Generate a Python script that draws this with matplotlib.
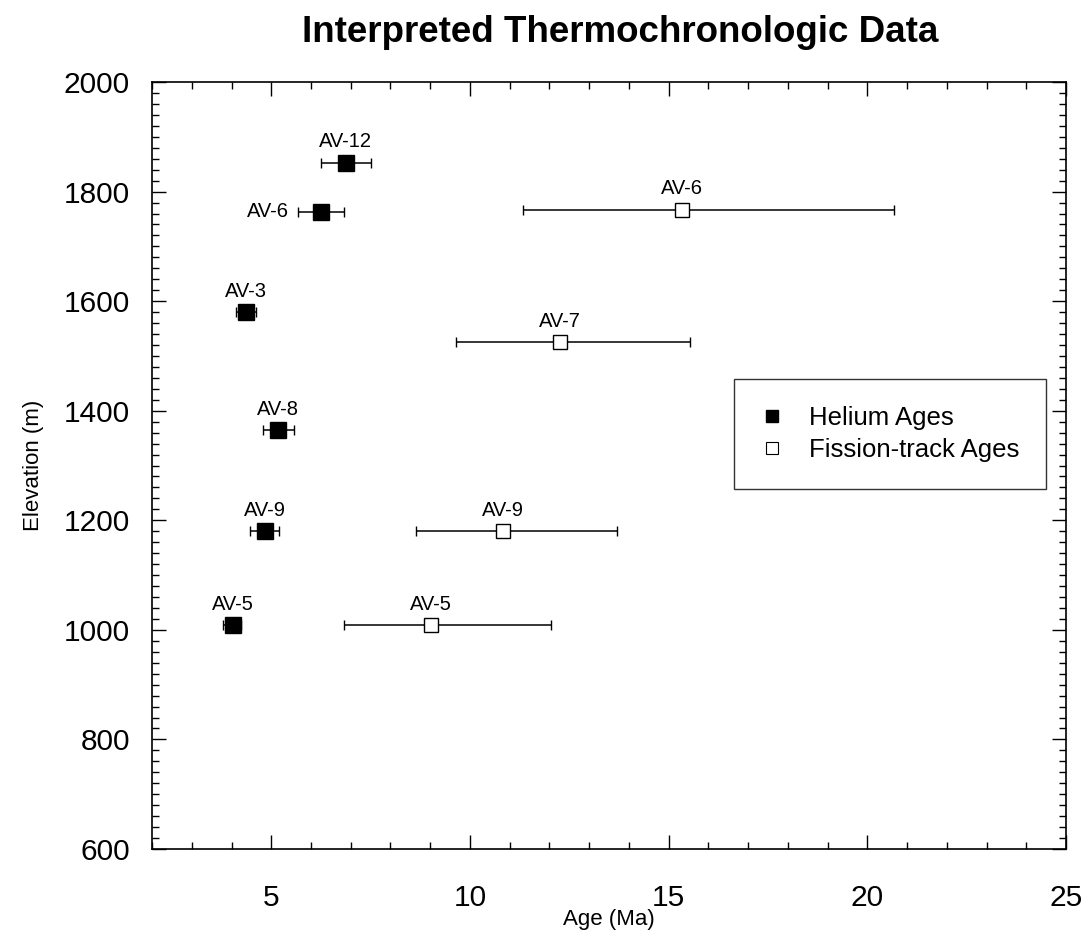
import matplotlib
matplotlib.use('Agg')
import matplotlib.pyplot as plt
from matplotlib.lines import Line2D
from matplotlib.ticker import MultipleLocator

plt.rcParams['font.family'] = ['Liberation Sans', 'DejaVu Sans']

# Helium ages (filled squares)
heNames = ['AV-5', 'AV-9', 'AV-8', 'AV-3', 'AV-6', 'AV-12']
heAge = [4.04, 4.85, 5.18, 4.37, 6.24, 6.87]
heLow = [3.79, 4.47, 4.80, 4.12, 5.68, 6.26]
heHigh = [4.24, 5.20, 5.58, 4.62, 6.82, 7.50]
heElev = [1009, 1180, 1365, 1580, 1763, 1853]

# Fission-track ages (open squares)
ftNames = ['AV-5', 'AV-9', 'AV-7', 'AV-6']
ftAge = [9.02, 10.83, 12.27, 15.33]
ftLow = [6.84, 8.64, 9.65, 11.34]
ftHigh = [12.05, 13.71, 15.53, 20.66]
ftElev = [1009, 1180, 1525, 1767]

xTicks = [5, 10, 15, 20, 25]
yTicks = [600, 800, 1000, 1200, 1400, 1600, 1800, 2000]

fig = plt.figure(figsize=(10.86, 9.43), dpi=100)
ax = fig.add_axes([0.140, 0.0997, 0.8416, 0.8133])

heErr = [[a - l for a, l in zip(heAge, heLow)], [h - a for a, h in zip(heAge, heHigh)]]
ftErr = [[a - l for a, l in zip(ftAge, ftLow)], [h - a for a, h in zip(ftAge, ftHigh)]]

ax.errorbar(ftAge, ftElev, xerr=ftErr, fmt='s', ms=10.5, mfc='white', mec='black',
            mew=1.0, ecolor='black', elinewidth=1.1, capsize=3.8, capthick=1.1, zorder=3)
ax.errorbar(heAge, heElev, xerr=heErr, fmt='s', ms=11, mfc='black', mec='black',
            mew=1.0, ecolor='black', elinewidth=1.1, capsize=3.8, capthick=1.1, zorder=4)

# sample labels: above the marker, except the helium AV-6 which sits on the left
for name, a, lo, e in zip(heNames, heAge, heLow, heElev):
    if name == 'AV-6':
        ax.annotate(name, (lo, e), xytext=(-7, 0), textcoords='offset points',
                    ha='right', va='center', fontsize=14.5)
    else:
        ax.annotate(name, (a, e), xytext=(0, 15), textcoords='offset points',
                    ha='center', va='center', fontsize=14.5)
for name, a, e in zip(ftNames, ftAge, ftElev):
    ax.annotate(name, (a, e), xytext=(0, 15), textcoords='offset points',
                ha='center', va='center', fontsize=14.5)

ax.set_xlim(2, 25)
ax.set_ylim(600, 2000)
ax.set_xticks(xTicks)
ax.set_yticks(yTicks)
ax.xaxis.set_minor_locator(MultipleLocator(1))
ax.yaxis.set_minor_locator(MultipleLocator(20))
ax.tick_params(which='both', direction='in', top=True, right=True, width=1.0)
ax.tick_params(which='major', length=10)
ax.tick_params(which='minor', length=5)
ax.tick_params(axis='x', which='major', labelsize=21.5, pad=25)
ax.tick_params(axis='y', which='major', labelsize=21.5, pad=16)
for sp in ax.spines.values():
    sp.set_linewidth(1.2)

ax.set_xlabel('Age (Ma)', fontsize=16, labelpad=-2)
ax.set_ylabel('Elevation (m)', fontsize=16, labelpad=14)

fig.text(0.571, 1 - 32 / 943, 'Interpreted Thermochronologic Data',
         ha='center', va='center', fontsize=26.5, fontweight='bold')

handles = [
    Line2D([], [], ls='none', marker='s', ms=8.5, mfc='black', mec='black'),
    Line2D([], [], ls='none', marker='s', ms=8.5, mfc='white', mec='black', mew=0.8),
]
leg = ax.legend(handles, ['Helium Ages', 'Fission-track Ages'], loc='upper left',
                bbox_to_anchor=(0.637, 0.613), fontsize=18.5, frameon=True, fancybox=False,
                borderpad=1.05, handlelength=0.8, handletextpad=1.05, labelspacing=0.3,
                borderaxespad=0)
leg.get_frame().set_edgecolor('black')
leg.get_frame().set_linewidth(1.0)

fig.savefig('out.png', dpi=100)
